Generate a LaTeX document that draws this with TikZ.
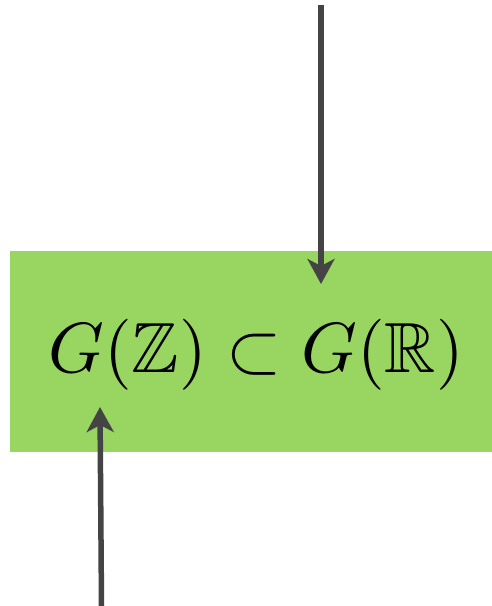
\documentclass[tikz,border=0pt]{standalone}
\usepackage{amsmath,amssymb}
\usetikzlibrary{arrows.meta}
\definecolor{boxgreen}{RGB}{152,213,97}
\definecolor{arrowgray}{RGB}{68,68,68}
\tikzset{
  arr/.style={line width=5.5pt,arrowgray,-{Stealth[length=25pt,width=27pt,inset=7pt]}},
}
\begin{document}
\begin{tikzpicture}[x=1pt,y=-1pt]
\useasboundingbox (0,0) rectangle (492,606);
\node[fill=boxgreen,minimum width=482pt,minimum height=201pt,inner sep=0pt] (box) at (251,351.5) {};
\node[scale=7.1] (incl) at (256,355) {$G(\mathbb{Z})\subset G(\mathbb{R})$};
\coordinate (topend) at (321,5);
\coordinate (toptip) at (321,284);
\coordinate (botend) at (101.5,606);
\coordinate (bottip) at (100,407);
\draw[arr] (topend)--(toptip);
\draw[arr] (botend)--(bottip);
\end{tikzpicture}
\end{document}
